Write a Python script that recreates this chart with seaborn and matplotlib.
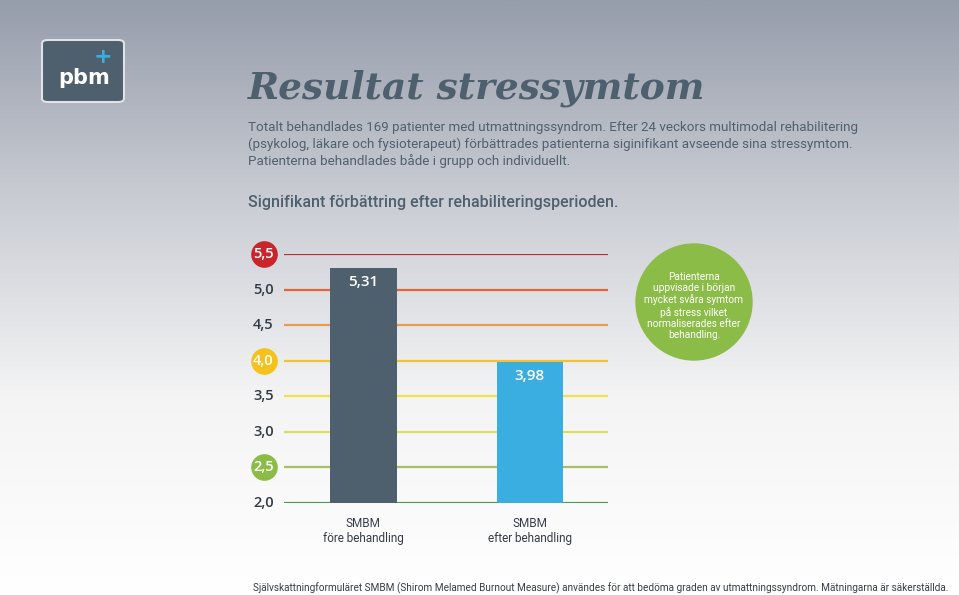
import numpy as np
import pandas as pd
import matplotlib
matplotlib.use("Agg")
import matplotlib.pyplot as plt
import seaborn as sns
from matplotlib.patches import FancyBboxPatch, Ellipse
from matplotlib.colors import LinearSegmentedColormap

categories = ["SMBM\nföre behandling", "SMBM\nefter behandling"]
values = [5.31, 3.98]
value_labels = ["5,31", "3,98"]
ticks = [2.0, 2.5, 3.0, 3.5, 4.0, 4.5, 5.0, 5.5]
tick_labels = ["2,0", "2,5", "3,0", "3,5", "4,0", "4,5", "5,0", "5,5"]
line_colors = ["#3aa55a", "#a8c060", "#dcdf5e", "#f0e04a", "#f2c230", "#e99a4c", "#e0653c", "#c8252c"]
circled = {5.5: "#c8252c", 4.0: "#f4c21c", 2.5: "#8cbc48"}
bar_colors = ["#4e5f6e", "#3aaee0"]

fig = plt.figure(figsize=(9.59, 5.95), dpi=100)
bg = fig.add_axes([0, 0, 1, 1])
grad = np.linspace(0, 1, 256)[:, None]
cmap = LinearSegmentedColormap.from_list("bg", ["#969dab", "#c9ccd3", "#f4f4f5", "#ffffff"])
bg.imshow(grad, aspect="auto", cmap=cmap, extent=[0, 1, 0, 1], origin="upper")
bg.set_xlim(0, 1); bg.set_ylim(0, 1); bg.axis("off")

# logo
bg.add_patch(FancyBboxPatch((42/959, 1-102/595), 82/959, 62/595, boxstyle="round,pad=0,rounding_size=0.006",
                            fc="#4e5f6e", ec="#dfe2e6", lw=1.5, transform=bg.transAxes))
bg.text(84/959, 1-78/595, "pbm", color="white", fontsize=15, fontweight="bold", ha="center", va="center", family="DejaVu Sans")
bg.text(103/959, 1-57/595, "+", color="#3aaee0", fontsize=16, fontweight="bold", ha="center", va="center")

fig.text(248/959, 1-88/595, "Resultat stressymtom", fontsize=27, fontweight="bold", style="italic",
         family="DejaVu Serif", color="#4e5f6e", va="center")
body = ("Totalt behandlades 169 patienter med utmattningssyndrom. Efter 24 veckors multimodal rehabilitering\n"
        "(psykolog, läkare och fysioterapeut) förbättrades patienterna siginifikant avseende sina stressymtom.\n"
        "Patienterna behandlades både i grupp och individuellt.")
fig.text(248/959, 1-121/595, body, fontsize=9.6, color="#4e5f6e", va="top", linespacing=1.3, family="Roboto")
fig.text(248/959, 1-203/595, "Signifikant förbättring efter rehabiliteringsperioden.", fontsize=11.5,
         color="#4e5f6e", va="center", family="Roboto", fontweight="medium")
fig.text(253/959, 1-588/595, "Självskattningformuläret SMBM (Shirom Melamed Burnout Measure) användes för att bedöma graden av utmattningssyndrom. Mätningarna är säkerställda.",
         fontsize=7.2, color="#333a44", va="center", family="Roboto")

ax = fig.add_axes([284/959, 1-503/595, 324/959, (503-254)/595])
ax.patch.set_alpha(0)
for t, c in zip(ticks, line_colors):
    ax.axhline(t, color=c, lw=1.6, zorder=0)
df = pd.DataFrame({"cat": categories, "val": values})
sns.barplot(data=df, x="cat", y="val", hue="cat", palette=bar_colors, saturation=1, width=0.4, ax=ax, legend=False, zorder=2)
ax.set_xlim(-0.477, 1.469)
ax.set_ylim(2.0, 5.5)
for i, (v, l) in enumerate(zip(values, value_labels)):
    ax.text(i, v - 0.2, l, color="white", fontsize=11, ha="center", va="center", zorder=3, family="Open Sans", fontweight="semibold")
ax.set_yticks([]); ax.set_xticks([])
ax.set_xlabel(""); ax.set_ylabel("")
for s in ax.spines.values():
    s.set_visible(False)
for i, c in enumerate(categories):
    ax.text(i, 1.8, c, ha="center", va="top", fontsize=8.5, color="#333a44", family="Roboto",
            transform=ax.transData, clip_on=False)
for t, l in zip(ticks, tick_labels):
    if t in circled:
        ax.scatter([-0.6], [t], s=330, color=circled[t], clip_on=False, zorder=4)
        ax.text(-0.6, t, l, ha="center", va="center", color="white", fontsize=10.5, zorder=5, family="Open Sans", fontweight="semibold")
    else:
        ax.text(-0.6, t, l, ha="center", va="center", color="#333a44", fontsize=10.5, family="Open Sans", fontweight="semibold")

# green note circle
bg.add_patch(Ellipse((694/959, 1-302/595), 116/959, 116/595, color="#8cbc48", transform=bg.transAxes))
note = "Patienterna\nuppvisade i början\nmycket svåra symtom\npå stress vilket\nnormaliserades efter\nbehandling."
fig.text(694/959, 1-306/595, note, ha="center", va="center", fontsize=7.3, color="white", linespacing=1.15, family="Roboto")

fig.savefig("out.png", dpi=100)
